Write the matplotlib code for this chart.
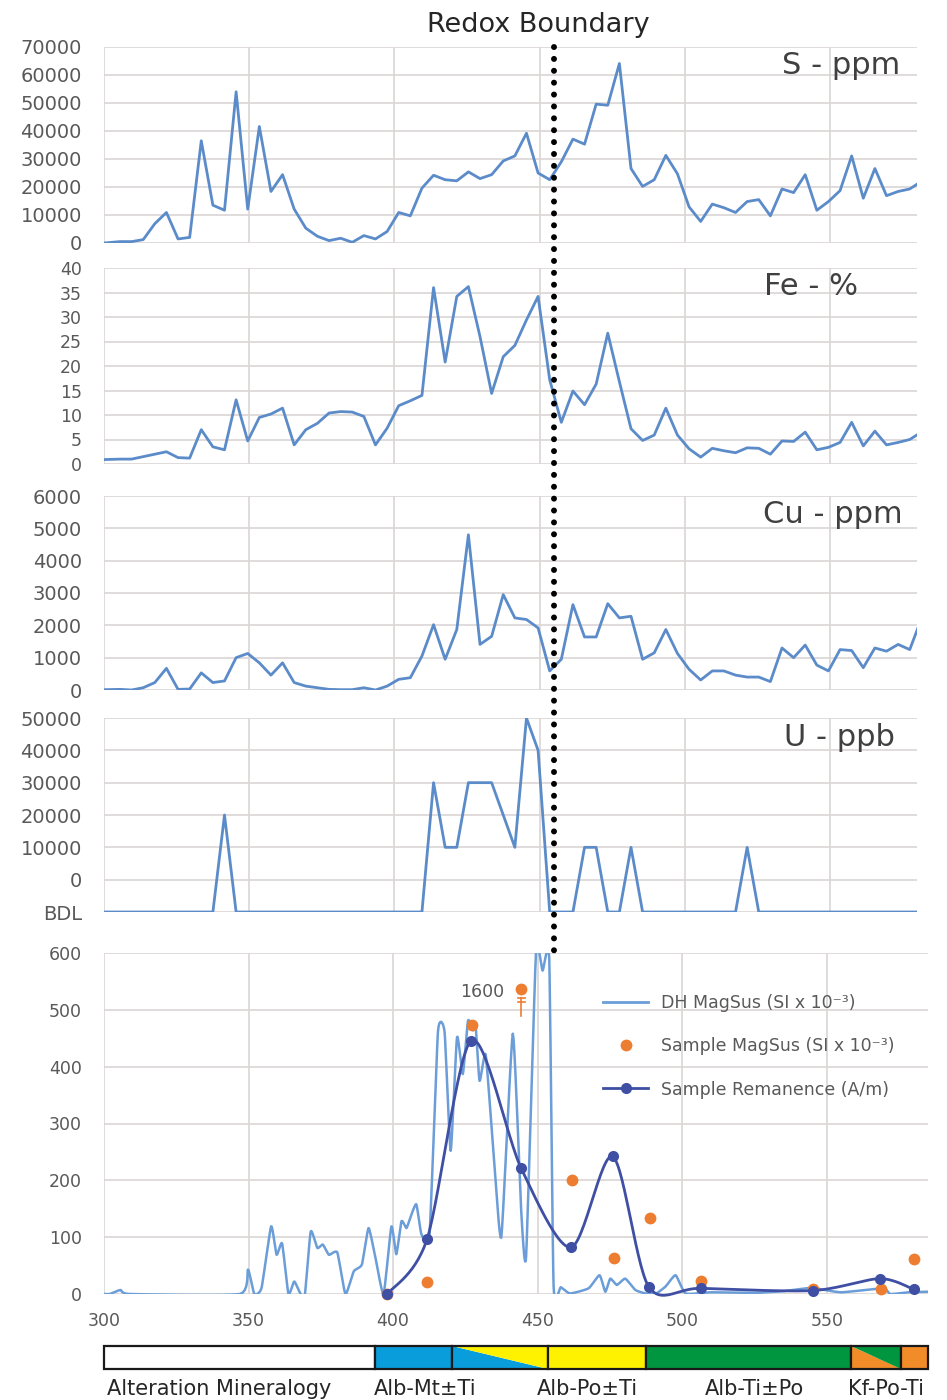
import numpy as np
import matplotlib.pyplot as plt
from matplotlib.patches import Polygon
from matplotlib.lines import Line2D

# sample depths shared by the geochem panels (m)
depth = [300, 305.5, 309.5, 313.5, 317.5, 321.5, 325.5, 329.5, 333.5, 337.5,
         341.5, 345.5, 349.5, 353.5, 357.5, 361.5, 365.5, 369.5, 373.5, 377.5,
         381.5, 385.5, 389.5, 393.5, 397.5, 401.5, 405.5, 409.5, 413.5, 417.5,
         421.5, 425.5, 429.5, 433.5, 437.5, 441.5, 445.5, 449.5, 453.5, 457.5,
         461.5, 465.5, 469.5, 473.5, 477.5, 481.5, 485.5, 489.5, 493.5, 497.5,
         501.5, 505.5, 509.5, 513.5, 517.5, 521.5, 525.5, 529.5, 533.5, 537.5,
         541.5, 545.5, 549.5, 553.5, 557.5, 561.5, 565.5, 569.5, 573.5, 577.5, 581.5]

s_ppm = [0, 500, 500, 1200, 6900, 10900, 1450, 2000, 36500, 13500,
         11700, 54000, 12100, 41600, 18400, 24400, 12100, 5300, 2400, 850,
         1700, 250, 2650, 1450, 4100, 10900, 9700, 19600, 24200, 22600,
         22200, 25400, 23000, 24400, 29300, 31100, 39200, 25000, 22600, 29000,
         37100, 35300, 49600, 49200, 64100, 26600, 20200, 22600, 31300, 24700,
         12900, 7700, 13900, 12600, 10900, 14800, 15500, 9700, 19300, 18000,
         24400, 11700, 14800, 18700, 31100, 16000, 26600, 16900, 18400, 19300, 22000]

fe_pct = [0.9, 1.0, 1.0, 1.5, 2.0, 2.5, 1.3, 1.2, 7.0, 3.5,
          2.9, 13.1, 4.7, 9.5, 10.2, 11.4, 3.9, 7.0, 8.3, 10.4,
          10.7, 10.6, 9.7, 3.9, 7.3, 11.9, 12.9, 14.0, 36.0, 20.8,
          34.2, 36.2, 26.0, 14.4, 21.9, 24.2, 29.4, 34.2, 17.2, 8.5,
          14.9, 12.1, 16.3, 26.7, 16.8, 7.2, 4.8, 5.9, 11.4, 5.9,
          3.1, 1.4, 3.2, 2.7, 2.3, 3.3, 3.2, 2.0, 4.7, 4.6,
          6.5, 2.9, 3.4, 4.4, 8.5, 3.7, 6.7, 3.9, 4.4, 5.0, 6.5]

cu_ppm = [10, 20, 0, 70, 230, 670, 20, 30, 530, 230,
          280, 1000, 1130, 840, 460, 840, 230, 120, 70, 20,
          10, 10, 70, 0, 120, 330, 380, 1050, 2020, 950,
          1870, 4800, 1410, 1660, 2950, 2230, 2180, 1920, 590, 950,
          2640, 1640, 1640, 2670, 2230, 2280, 950, 1150, 1870, 1130,
          640, 310, 590, 590, 460, 400, 400, 260, 1300, 1000,
          1390, 770, 590, 1250, 1220, 690, 1300, 1200, 1410, 1250, 2200]

# None = below detection limit
u_ppb = [None, None, None, None, None, None, None, None, None, None,
         20000, None, None, None, None, None, None, None, None, None,
         None, None, None, None, None, None, None, None, 30000, 10000,
         10000, 30000, 30000, 30000, 20000, 10000, 50000, 40000, None, None,
         None, 10000, 10000, None, None, 10000, None, None, None, None,
         None, None, None, None, None, 10000, None, None, None, None,
         None, None, None, None, None, None, None, None, None, None, None]

# downhole magnetic susceptibility
dh_depth = [300, 302, 305.7, 309, 347, 349.8, 352, 354.5, 357.8, 359.7,
            361.6, 363.8, 365.8, 368, 369.5, 371.5, 373.8, 375.7, 377.8, 380.7,
            383.5, 386.4, 389.2, 391.5, 393.8, 396.7, 399.4, 401.1, 402.9, 404.6,
            405.7, 408, 409.8, 412.6, 415.5, 417.8, 419.9, 422.1, 424.1, 425.9,
            427.6, 428.5, 429.9, 432, 434.5, 437.4, 441.4, 444.3, 446, 449.4,
            451.7, 454, 455.5, 458, 461.2, 467.6, 471.4, 473.4, 475.1, 477.4,
            480.3, 483.8, 487.3, 490.7, 494.2, 497.7, 501.2, 510, 525, 535,
            542.8, 546, 555, 569.4, 572, 578, 585]
dh_magsus = [0, 0, 7, 0, 0, 43, 0, 11, 119, 69,
             89, 0, 22, 0, 0, 110, 81, 87, 69, 73,
             0, 40, 52, 116, 66, 0, 119, 70, 128, 116,
             131, 158, 105, 105, 461, 461, 252, 452, 387, 481,
             464, 475, 375, 422, 264, 99, 458, 146, 66, 599,
             569, 590, 14, 12, 1, 10, 33, 4, 27, 16,
             27, 7, 1, 0, 13, 33, 1, 3, 2, 5,
             10, 10, 3, 10, 0, 3, 4]

sample_depth = [398, 411.7, 427.4, 461.8, 476.3, 489, 506.6, 545.1, 568.6, 580.2]
sample_magsus = [0, 21, 474, 201, 64, 133, 23, 8, 8, 61]
offscale_depth = 444.3
offscale_value = 1600

rem_depth = [398, 411.7, 427, 444.3, 461.5, 475.9, 488.4, 506.4, 545.1, 568.3, 580.1]
rem_value = [0, 96, 446, 221, 82, 242, 13, 10, 6, 27, 8]

redox_depth = 455

alt_edges = [300, 393.75, 420.4, 453.5, 487.5, 558.3, 575.8, 585]
alt_fill = ['white', 'blue', ('blue', 'yellow'), 'yellow', 'green', ('orange', 'green'), 'orange']
alt_names = ['Alteration Mineralogy', 'Alb-Mt±Ti', 'Alb-Po±Ti', 'Alb-Ti±Po', 'Kf-Po-Ti']
alt_name_pos = [340, 411, 467.3, 525, 570.5]

BLUE = '#5b8bc9'
LBLUE = '#6b9dd8'
DBLUE = '#3f4fa3'
ORANGE = '#ed7d31'
GRID = '#dcd5d5'
TXT = '#595959'
alt_colors = {'white': 'white', 'blue': '#0a9ddb', 'yellow': '#fff200',
              'green': '#00963f', 'orange': '#f28c28'}


def smooth(xs, ys, n=16, k=6.0):
    # Excel-like smoothed line (cubic Bezier between points)
    p = np.column_stack([xs, ys]).astype(float)
    p = np.vstack([p[0], p, p[-1]])
    out = []
    t = np.linspace(0, 1, n)[:, None]
    for i in range(1, len(p) - 2):
        p0, p1, p2, p3 = p[i - 1], p[i], p[i + 1], p[i + 2]
        c1 = p1 + (p2 - p0) / k
        c2 = p2 - (p3 - p1) / k
        seg = ((1 - t) ** 3) * p1 + 3 * ((1 - t) ** 2) * t * c1 + 3 * (1 - t) * t ** 2 * c2 + t ** 3 * p2
        out.append(seg if i == 1 else seg[1:])
    out = np.vstack(out)
    return out[:, 0], out[:, 1]


fig = plt.figure(figsize=(9.47, 14.0), dpi=100)
fig.patch.set_facecolor('white')

W, H = 947.0, 1400.0


def box(l, t, r, b):
    return [l / W, 1 - b / H, (r - l) / W, (b - t) / H]


def style(ax, fs):
    for sp in ax.spines.values():
        sp.set_visible(False)
    ax.grid(True, color=GRID, lw=1.2)
    ax.set_axisbelow(True)
    ax.tick_params(length=0, labelsize=fs, colors=TXT, pad=16)


panels = [
    (s_ppm, (0, 70000), range(0, 70001, 10000), 'S - ppm', 47, 243, 14),
    (fe_pct, (0, 40), range(0, 41, 5), 'Fe - %', 268, 464, 12.5),
    (cu_ppm, (0, 6000), range(0, 6001, 1000), 'Cu - ppm', 496, 690, 14),
]
label_x = {'S - ppm': 0.979, 'Fe - %': 0.927, 'Cu - ppm': 0.982}

axes = []
for vals, ylim, ticks, name, top, bot, fs in panels:
    ax = fig.add_axes(box(104, top, 917, bot))
    ax.plot(depth, vals, color=BLUE, lw=2.0)
    ax.set_xlim(300, 580)
    ax.set_ylim(*ylim)
    ax.set_yticks(list(ticks))
    ax.set_xticks(range(300, 551, 50))
    ax.set_xticklabels([])
    style(ax, fs)
    ax.text(label_x[name], 0.905, name, transform=ax.transAxes, ha='right', va='center',
            fontsize=22, color='#404040')
    axes.append(ax)

# U panel with BDL level below zero
bdl = -10000
ax_u = fig.add_axes(box(104, 718, 917, 912))
u_plot = [bdl if v is None else v for v in u_ppb]
ax_u.plot(depth, u_plot, color=BLUE, lw=2.0)
ax_u.set_xlim(300, 580)
ax_u.set_ylim(bdl, 50000)
ax_u.set_yticks(range(bdl, 50001, 10000))
ax_u.set_yticklabels(['BDL'] + [str(v) for v in range(0, 50001, 10000)])
ax_u.set_xticks(range(300, 551, 50))
ax_u.set_xticklabels([])
style(ax_u, 14)
ax_u.text(0.973, 0.902, 'U - ppb', transform=ax_u.transAxes, ha='right', va='center',
          fontsize=22, color='#404040')
axes.append(ax_u)

# magnetics panel
ax_m = fig.add_axes(box(104, 953, 928, 1294))
sx, sy = smooth(dh_depth, dh_magsus, 10, k=12.0)
ax_m.plot(sx, sy, color=LBLUE, lw=1.8, zorder=3)
ax_m.plot(sample_depth, sample_magsus, 'o', color=ORANGE, ms=8.5, mec='none',
          zorder=4, clip_on=False)
# off-scale sample drawn at the top of the scale with its value
off_y = 536
ax_m.plot([offscale_depth], [off_y], 'o', color=ORANGE, ms=8.5, mec='none', zorder=4)
ax_m.plot([offscale_depth, offscale_depth], [490, 521], color=ORANGE, lw=1.2, zorder=4)
ax_m.plot([offscale_depth - 1.2, offscale_depth + 1.2], [521, 521], color=ORANGE, lw=1.2, zorder=4)
ax_m.plot([offscale_depth - 1.2, offscale_depth + 1.2], [513, 513], color=ORANGE, lw=1.2, zorder=4)
ax_m.text(offscale_depth - 5.8, 531, str(offscale_value), ha='right', va='center',
          fontsize=12.5, color=TXT)
rx, ry = smooth(rem_depth, rem_value, 30, k=7.0)
ax_m.plot(rx, ry, color=DBLUE, lw=2.0, zorder=5, clip_on=False)
ax_m.plot(rem_depth, rem_value, 'o', color=DBLUE, ms=8, mec='none', zorder=6, clip_on=False)
ax_m.set_xlim(300, 585)
ax_m.set_ylim(0, 600)
ax_m.set_xticks(range(300, 551, 50))
ax_m.set_yticks(range(0, 601, 100))
style(ax_m, 12.5)
ax_m.tick_params(axis='x', pad=13)

handles = [Line2D([], [], color=LBLUE, lw=2.0),
           Line2D([], [], ls='none', marker='o', color=ORANGE, ms=8.5, mec='none'),
           Line2D([], [], color=DBLUE, lw=2.0, marker='o', ms=8, mec='none')]
labels = ['DH MagSus (SI x 10⁻³)', 'Sample MagSus (SI x 10⁻³)', 'Sample Remanence (A/m)']
leg = ax_m.legend(handles, labels, loc='upper left', bbox_to_anchor=(0.587, 0.925),
                  frameon=False, fontsize=12.5, handlelength=2.6, handletextpad=0.75,
                  labelspacing=1.45)
for t in leg.get_texts():
    t.set_color(TXT)

# alteration bar
ax_b = fig.add_axes(box(104, 1346, 928, 1369))
ax_b.set_xlim(300, 585)
ax_b.set_ylim(0, 1)
ax_b.axis('off')
for i, fill in enumerate(alt_fill):
    x0, x1 = alt_edges[i], alt_edges[i + 1]
    if isinstance(fill, tuple):
        ax_b.add_patch(Polygon([(x0, 0), (x0, 1), (x1, 0)], closed=True,
                               fc=alt_colors[fill[0]], ec='none'))
        ax_b.add_patch(Polygon([(x0, 1), (x1, 1), (x1, 0)], closed=True,
                               fc=alt_colors[fill[1]], ec='none'))
    else:
        ax_b.add_patch(Polygon([(x0, 0), (x0, 1), (x1, 1), (x1, 0)], closed=True,
                               fc=alt_colors[fill], ec='none'))
    ax_b.add_patch(Polygon([(x0, 0), (x0, 1), (x1, 1), (x1, 0)], closed=True,
                           fc='none', ec='#1a1a1a', lw=1.6, clip_on=False))
for name, xp in zip(alt_names, alt_name_pos):
    ax_b.text(xp, -0.85, name, ha='center', va='center', fontsize=15, color='#262626')

# title and redox boundary
fig.text(538 / W, 1 - 25 / H, 'Redox Boundary', ha='center', va='center',
         fontsize=19.5, color='#262626')
xf = fig.transFigure.inverted().transform(axes[0].transData.transform((redox_depth, 0)))[0]
fig.add_artist(Line2D([xf, xf], [1 - 47 / H, 1 - 955 / H], transform=fig.transFigure,
                      color='black', lw=4.3, ls=(0, (0.01, 1.98)), dash_capstyle='round',
                      zorder=10))

fig.savefig('out.png', dpi=100, facecolor='white')
